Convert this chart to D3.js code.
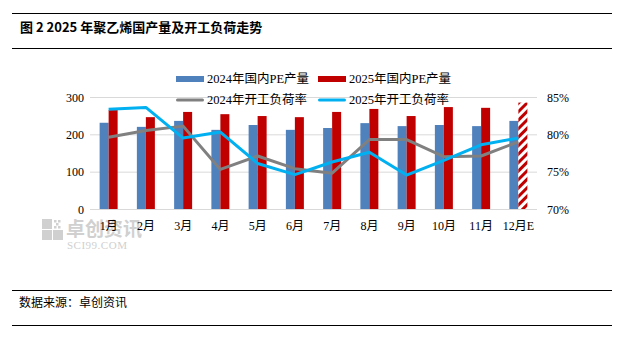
<!DOCTYPE html>
<html lang="zh">
<head>
<meta charset="UTF-8">
<title>2025年聚乙烯国产量及开工负荷走势</title>
<style>
  body { margin: 0; background: #fff; }
  svg { display: block; font-family: "Liberation Serif", "Noto Sans CJK SC", serif; }
</style>
</head>
<body>
<svg id="chart" width="625" height="339"></svg>
<script src="https://cdn.jsdelivr.net/npm/d3@7/dist/d3.min.js"></script>
<script>
// data
const months = ["1月", "2月", "3月", "4月", "5月", "6月", "7月", "8月", "9月", "10月", "11月", "12月E"];
const output2024 = [231, 220, 236, 212, 225, 212, 217, 230, 222, 225, 222, 236];
const output2025 = [265, 246, 260, 254, 249, 246, 260, 268, 249, 273, 271, 285];
const rate2024 = [79.6, 80.5, 81.1, 75.3, 77.1, 75.4, 74.8, 79.3, 79.3, 77.0, 77.1, 79.0];
const rate2025 = [83.35, 83.6, 79.5, 80.3, 76.1, 74.6, 76.3, 77.6, 74.55, 76.5, 78.6, 79.5];
const leftTicks = [0, 100, 200, 300];
const rightTicks = [70, 75, 80, 85];

const svg = d3.select("#chart");
const cjk = '"Noto Sans CJK SC", sans-serif';

// frame lines + title + source
[13.5, 48.5, 290.5, 325.5].forEach(y => {
  svg.append("line").attr("x1", 12).attr("x2", 612).attr("y1", y).attr("y2", y)
    .attr("stroke", "#000").attr("stroke-width", 1.2);
});

svg.append("text").attr("x", 20).attr("y", 32)
  .style("font-family", cjk).style("font-size", "13px").style("font-weight", "bold")
  .text("图 2 2025 年聚乙烯国产量及开工负荷走势");

svg.append("text").attr("x", 19).attr("y", 307)
  .style("font-family", cjk).style("font-size", "12px")
  .text("数据来源：卓创资讯");

// watermark (drawn first so labels sit on top)
const wm = svg.append("g").attr("fill", "#d0d0d0");
[[42, 219], [42, 230], [53, 230]].forEach(([x, y]) => {
  wm.append("rect").attr("x", x).attr("y", y).attr("width", 10).attr("height", 10);
});
[[54, 220], [58, 220], [56, 223], [54, 226], [58, 226]].forEach(([x, y]) => {
  wm.append("rect").attr("x", x).attr("y", y).attr("width", 2.5).attr("height", 2.5);
});
wm.append("text").attr("x", 66).attr("y", 236).style("font-family", cjk).style("font-size", "19px").style("font-weight", "bold").text("卓创资讯");
wm.append("text").attr("x", 67).attr("y", 249).style("font-size", "11px").style("letter-spacing", "0.5px").text("SCI99.COM");

// scales
const x = d3.scaleBand().domain(months).range([90, 537]);
const yL = d3.scaleLinear().domain([0, 300]).range([209, 97]);
const yR = d3.scaleLinear().domain([70, 85]).range([209, 97]);
const bw = 9;

// grid
svg.append("g").selectAll("line").data(leftTicks).join("line")
  .attr("x1", 90).attr("x2", 537)
  .attr("y1", d => yL(d) + 0.5).attr("y2", d => yL(d) + 0.5)
  .attr("stroke", "#d9d9d9").attr("stroke-width", 1);

// left axis
const axL = svg.append("g").attr("transform", "translate(84,0)")
  .call(d3.axisLeft(yL).tickValues(leftTicks).tickSize(0).tickPadding(0));
axL.select(".domain").remove();
axL.selectAll("text").style("font-size", "12px").style("font-family", "Liberation Serif, serif").attr("fill", "#000").attr("dy", "0.35em").attr("x", 0);

// right axis
const axR = svg.append("g").attr("transform", "translate(547,0)")
  .call(d3.axisRight(yR).tickValues(rightTicks).tickSize(0).tickPadding(0).tickFormat(d => d + "%"));
axR.select(".domain").remove();
axR.selectAll("text").style("font-size", "12px").style("font-family", "Liberation Serif, serif").attr("fill", "#000").attr("dy", "0.35em");

// bottom axis
const axB = svg.append("g").attr("transform", "translate(0,209)")
  .call(d3.axisBottom(x).tickSize(0).tickPadding(12));
axB.select(".domain").remove();
axB.selectAll("text").style("font-size", "12px").style("font-family", "Liberation Serif, " + cjk).attr("fill", "#000");

// hatch pattern for estimate
const defs = svg.append("defs");
const pat = defs.append("pattern").attr("id", "hatch").attr("patternUnits", "userSpaceOnUse")
  .attr("width", 6).attr("height", 6).attr("patternTransform", "rotate(45)");
pat.append("rect").attr("width", 6).attr("height", 6).attr("fill", "#fff");
pat.append("rect").attr("width", 3).attr("height", 6).attr("fill", "#c00000");

// bars
svg.append("g").selectAll("rect").data(months).join("rect")
  .attr("x", d => x(d) + x.bandwidth() / 2 - bw)
  .attr("width", bw)
  .attr("y", (d, i) => yL(output2024[i]))
  .attr("height", (d, i) => yL(0) - yL(output2024[i]))
  .attr("fill", "#4f81bd");

svg.append("g").selectAll("rect").data(months).join("rect")
  .attr("x", d => x(d) + x.bandwidth() / 2)
  .attr("width", bw)
  .attr("y", (d, i) => yL(output2025[i]))
  .attr("height", (d, i) => yL(0) - yL(output2025[i]))
  .attr("fill", (d, i) => i === months.length - 1 ? "url(#hatch)" : "#c00000");

// lines
const line = d3.line().x(d => x(d.m) + x.bandwidth() / 2).y(d => yR(d.v));
svg.append("path").datum(months.map((m, i) => ({ m, v: rate2024[i] })))
  .attr("d", line).attr("fill", "none").attr("stroke", "#808080").attr("stroke-width", 3).attr("stroke-linejoin", "round");
svg.append("path").datum(months.map((m, i) => ({ m, v: rate2025[i] })))
  .attr("d", line).attr("fill", "none").attr("stroke", "#00b0f0").attr("stroke-width", 3).attr("stroke-linejoin", "round");

// legend
const legend = [
  { name: "2024年国内PE产量", color: "#4f81bd", type: "bar", x: 176, y: 79 },
  { name: "2025年国内PE产量", color: "#c00000", type: "bar", x: 318, y: 79 },
  { name: "2024年开工负荷率", color: "#808080", type: "line", x: 176, y: 100 },
  { name: "2025年开工负荷率", color: "#00b0f0", type: "line", x: 318, y: 100 }
];
const lg = svg.append("g").selectAll("g").data(legend).join("g")
  .attr("transform", d => `translate(${d.x},${d.y})`);
lg.append("rect").attr("x", 0).attr("width", 28)
  .attr("y", d => d.type === "bar" ? -3 : -1.5)
  .attr("height", d => d.type === "bar" ? 6 : 3)
  .attr("rx", d => d.type === "bar" ? 0 : 1.5)
  .attr("fill", d => d.color);
lg.append("text").attr("x", 31).attr("dy", "0.35em")
  .style("font-size", "12.5px").style("font-family", "Liberation Serif, " + cjk)
  .text(d => d.name);
</script>
</body>
</html>
